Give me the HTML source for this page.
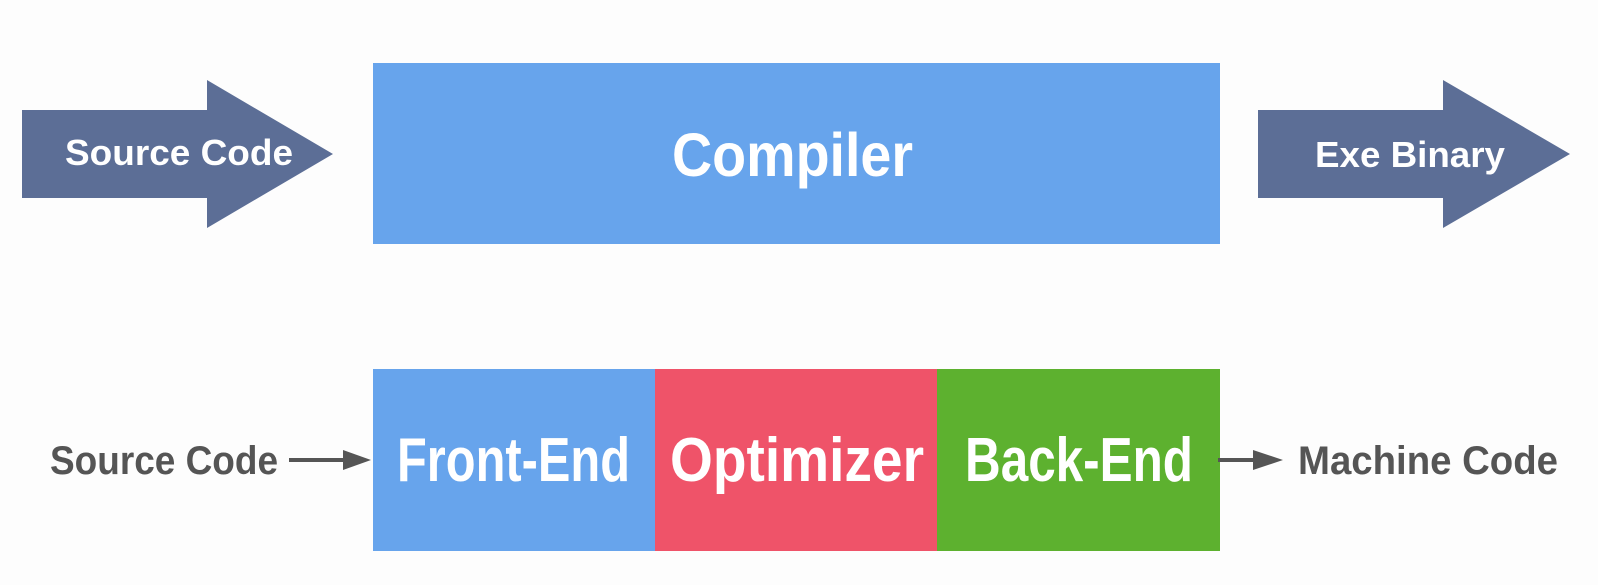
<!DOCTYPE html>
<html><head><meta charset="utf-8"><style>
html,body{margin:0;padding:0;background:#fdfdfd;}
svg{display:block;}
text{font-family:"Liberation Sans",sans-serif;}
</style></head><body>
<svg width="1598" height="585" viewBox="0 0 1598 585" xmlns="http://www.w3.org/2000/svg">
<rect width="1598" height="585" fill="#fdfdfd"/>
<!-- left big arrow -->
<polygon points="22,110 207,110 207,80 333,154 207,228 207,198 22,198" fill="#5c6e96"/>
<text x="65" y="165" font-size="36" fill="#fff" textLength="228" lengthAdjust="spacingAndGlyphs" font-weight="bold">Source Code</text>
<!-- compiler -->
<rect x="373" y="63" width="847" height="181" fill="#67a4ec"/>
<text x="672" y="176" font-size="61" fill="#fff" textLength="241" lengthAdjust="spacingAndGlyphs" font-weight="bold">Compiler</text>
<!-- right big arrow -->
<polygon points="1258,110 1443,110 1443,80 1570,154 1443,228 1443,198 1258,198" fill="#5c6e96"/>
<text x="1315" y="167" font-size="36" fill="#fff" textLength="190" lengthAdjust="spacingAndGlyphs" font-weight="bold">Exe Binary</text>
<!-- bottom blocks -->
<rect x="373" y="369" width="282" height="182" fill="#67a4ec"/>
<rect x="655" y="369" width="282" height="182" fill="#ef5369"/>
<rect x="937" y="369" width="283" height="182" fill="#5db12f"/>
<text x="397" y="481" font-size="62" fill="#fff" textLength="233" lengthAdjust="spacingAndGlyphs" font-weight="bold">Front-End</text>
<text x="670" y="481" font-size="62" fill="#fff" textLength="254" lengthAdjust="spacingAndGlyphs" font-weight="bold">Optimizer</text>
<text x="965" y="481" font-size="62" fill="#fff" textLength="228" lengthAdjust="spacingAndGlyphs" font-weight="bold">Back-End</text>
<!-- side labels -->
<text x="50" y="474" font-size="40" fill="#555" textLength="228" lengthAdjust="spacingAndGlyphs" font-weight="bold">Source Code</text>
<line x1="289" y1="460" x2="345" y2="460" stroke="#555" stroke-width="4"/>
<polygon points="343,450 371,460 343,470" fill="#555"/>
<line x1="1218" y1="460" x2="1256" y2="460" stroke="#555" stroke-width="4"/>
<polygon points="1253,450 1283,460 1253,470" fill="#555"/>
<text x="1298" y="474" font-size="40" fill="#555" textLength="260" lengthAdjust="spacingAndGlyphs" font-weight="bold">Machine Code</text>
</svg>
</body></html>
